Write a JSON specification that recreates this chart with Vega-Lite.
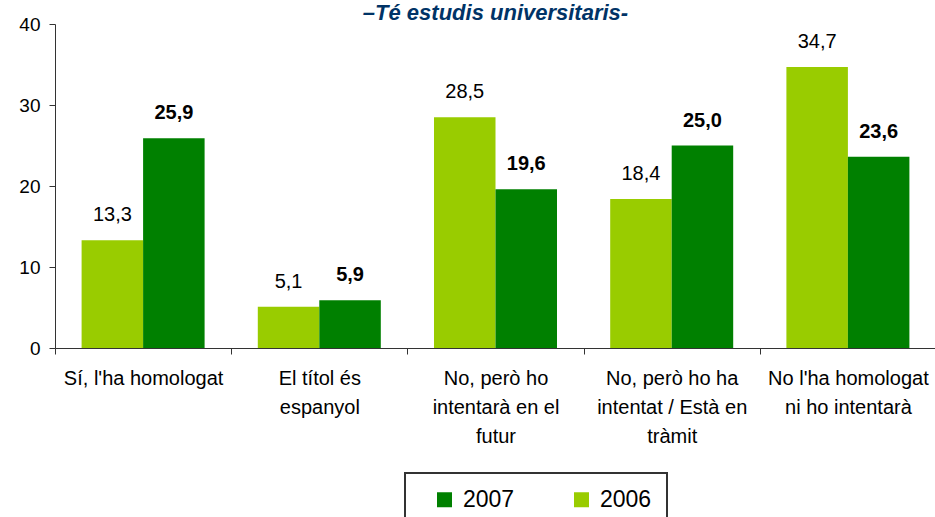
{
  "$schema": "https://vega.github.io/schema/vega-lite/v6.json",
  "width": 881,
  "height": 324,
  "autosize": {"type": "none"},
  "padding": {"left": 55, "top": 24, "right": 0, "bottom": 169},
  "title": {
    "text": "–Té estudis universitaris-",
    "font": "Liberation Sans",
    "fontSize": 22,
    "fontWeight": "bold",
    "fontStyle": "italic",
    "color": "#003366",
    "anchor": "middle",
    "baseline": "alphabetic",
    "offset": 0,
    "dy": 27
  },
  "data": {
    "values": [
      {"cat": "Sí, l'ha homologat", "year": "2006", "value": 13.3},
      {"cat": "Sí, l'ha homologat", "year": "2007", "value": 25.9},
      {"cat": "El títol és|espanyol", "year": "2006", "value": 5.1},
      {"cat": "El títol és|espanyol", "year": "2007", "value": 5.9},
      {"cat": "No, però ho|intentarà en el|futur", "year": "2006", "value": 28.5},
      {"cat": "No, però ho|intentarà en el|futur", "year": "2007", "value": 19.6},
      {"cat": "No, però ho ha|intentat / Està en|tràmit", "year": "2006", "value": 18.4},
      {"cat": "No, però ho ha|intentat / Està en|tràmit", "year": "2007", "value": 25.0},
      {"cat": "No l'ha homologat|ni ho intentarà", "year": "2006", "value": 34.7},
      {"cat": "No l'ha homologat|ni ho intentarà", "year": "2007", "value": 23.6}
    ]
  },
  "encoding": {
    "x": {
      "field": "cat",
      "type": "nominal",
      "sort": null,
      "scale": {"paddingInner": 0, "paddingOuter": 0},
      "axis": {
        "title": null,
        "labelAngle": 0,
        "labelExpr": "split(datum.label, '|')",
        "labelFont": "Liberation Sans",
        "labelFontSize": 20,
        "labelColor": "#000000",
        "labelLineHeight": 29,
        "labelPadding": 14,
        "labelLimit": 300,
        "tickBand": "extent",
        "tickSize": 6,
        "tickColor": "#333333",
        "domainColor": "#333333",
        "grid": false
      }
    },
    "xOffset": {
      "field": "year",
      "type": "nominal",
      "scale": {"domain": ["2006", "2007"], "paddingInner": 0, "paddingOuter": 0.4325}
    },
    "y": {
      "field": "value",
      "type": "quantitative",
      "scale": {"domain": [0, 40], "nice": false},
      "axis": {
        "title": null,
        "values": [0, 10, 20, 30, 40],
        "grid": false,
        "labelFont": "Liberation Sans",
        "labelFontSize": 19,
        "labelColor": "#000000",
        "labelPadding": 9,
        "tickSize": 6,
        "tickColor": "#333333",
        "domainColor": "#333333"
      }
    }
  },
  "layer": [
    {
      "mark": {"type": "bar"},
      "encoding": {
        "color": {
          "field": "year",
          "type": "nominal",
          "scale": {"domain": ["2007", "2006"], "range": ["#008000", "#99CC00"]},
          "legend": {
            "title": null,
            "orient": "none",
            "direction": "horizontal",
            "legendX": 350,
            "legendY": 449,
            "symbolType": "square",
            "symbolSize": 225,
            "symbolStrokeWidth": 0,
            "symbolOffset": 13,
            "labelFont": "Liberation Sans",
            "labelFontSize": 23,
            "labelColor": "#000000",
            "labelOffset": 7,
            "columnPadding": 42,
            "padding": 15,
            "strokeColor": "#333333"
          }
        }
      }
    },
    {
      "transform": [{"filter": "datum.year == '2006'"}],
      "mark": {"type": "text", "baseline": "alphabetic", "dy": -19, "font": "Liberation Sans", "fontSize": 20, "color": "#000000"},
      "encoding": {"text": {"field": "value", "type": "quantitative", "format": ".1f"}}
    },
    {
      "transform": [{"filter": "datum.year == '2007'"}],
      "mark": {"type": "text", "baseline": "alphabetic", "dy": -19, "font": "Liberation Sans", "fontSize": 20, "fontWeight": "bold", "color": "#000000"},
      "encoding": {"text": {"field": "value", "type": "quantitative", "format": ".1f"}}
    }
  ],
  "config": {
    "view": {"stroke": null},
    "legend": {"strokeWidth": 2},
    "locale": {
      "number": {"decimal": ",", "thousands": ".", "grouping": [3], "currency": ["", " €"]}
    }
  }
}
